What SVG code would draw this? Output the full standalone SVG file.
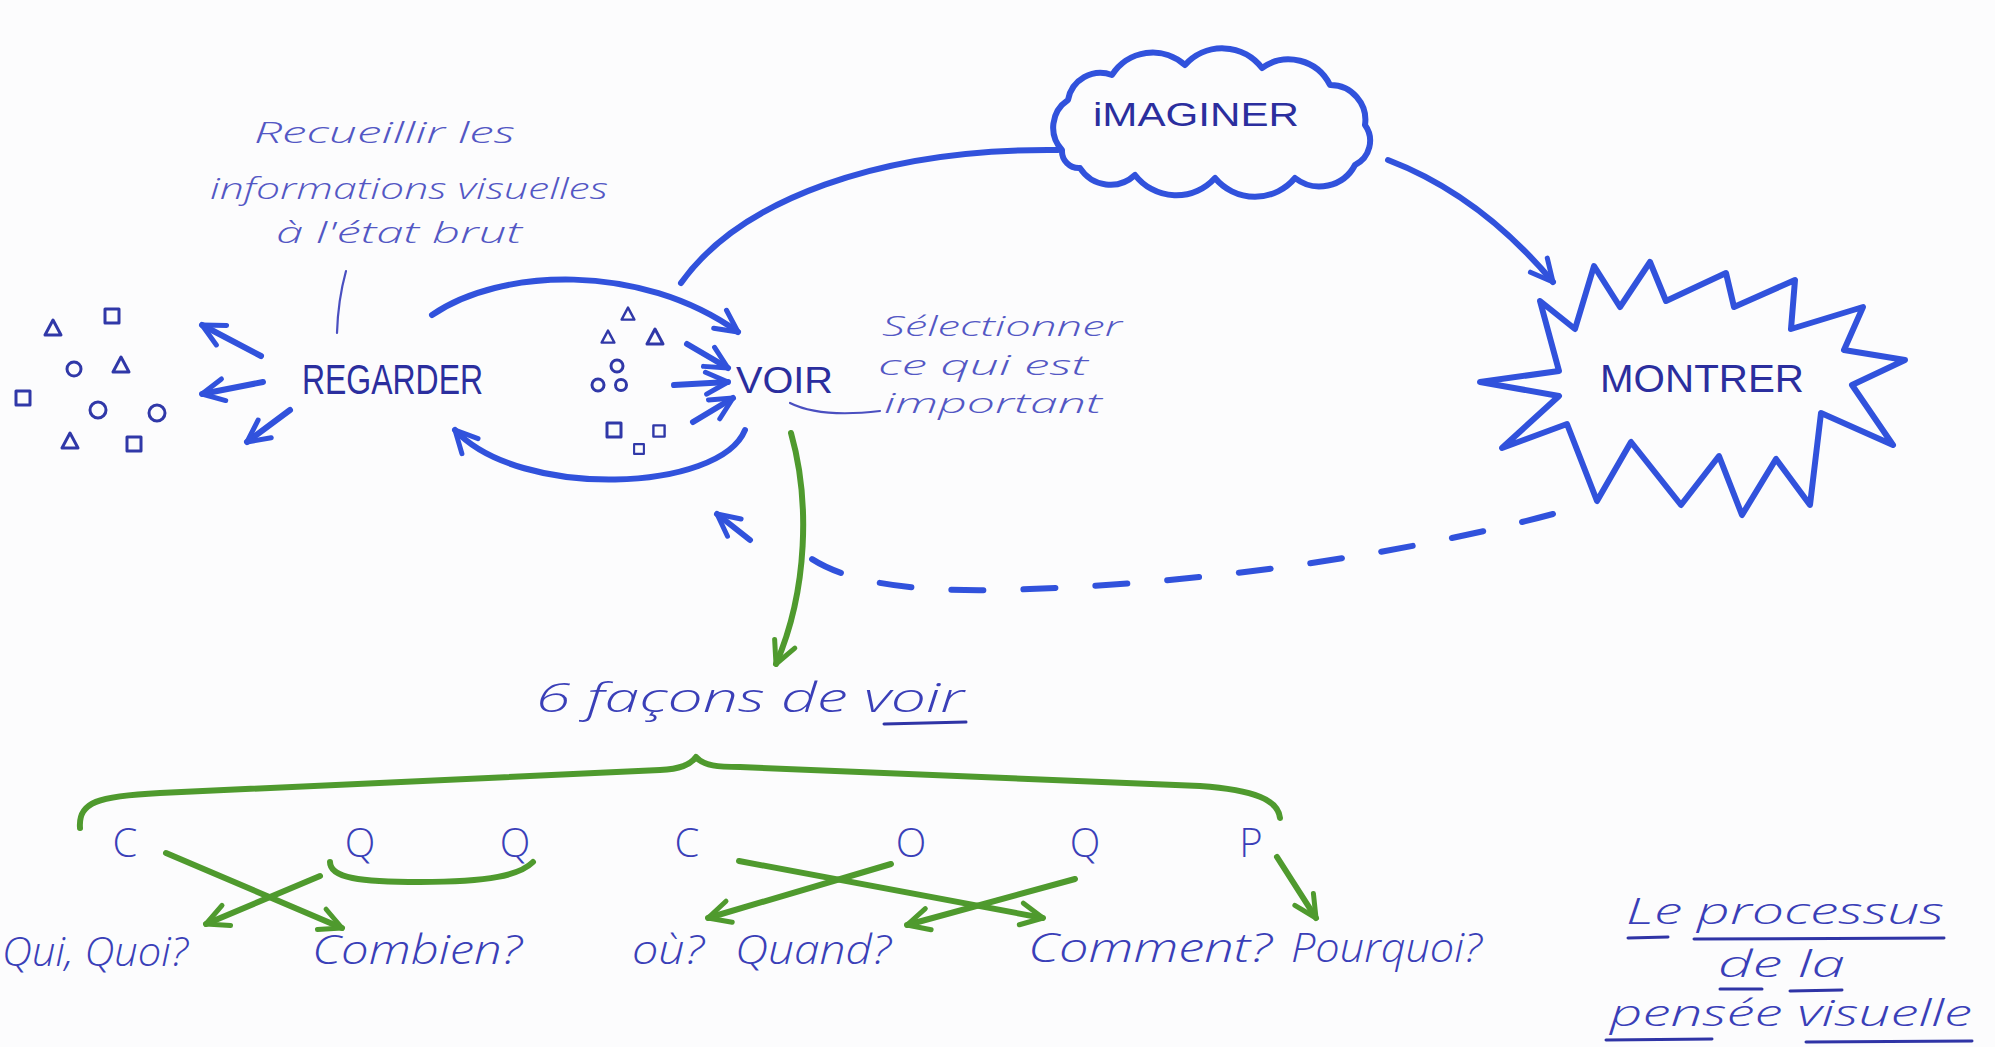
<svg xmlns="http://www.w3.org/2000/svg" width="1995" height="1047" viewBox="0 0 1995 1047">
  <defs>
    <style>
      .cap { font-family: "Liberation Sans", Arial, sans-serif; fill: #2b2e9e; }
      .hand { font-family: "Open Sans", "DejaVu Sans", sans-serif; font-style: italic; font-weight: 300; fill: #3a3fb8; }
      .letter { font-family: "Open Sans", "DejaVu Sans", sans-serif; font-weight: 300; fill: #3a3fb8; }
      .note { font-family: "Open Sans", "DejaVu Sans", sans-serif; font-style: italic; font-weight: 300; fill: #5357c4; }
      .blue { fill: none; stroke: #3152dc; stroke-width: 6; stroke-linecap: round; stroke-linejoin: round; }
      .green { fill: none; stroke: #4f9a2e; stroke-width: 6; stroke-linecap: round; stroke-linejoin: round; }
      .thin { fill: none; stroke: #4a4fc0; stroke-width: 2.2; stroke-linecap: round; }
      .ink { fill: none; stroke: #3038a8; stroke-width: 3; stroke-linecap: round; stroke-linejoin: round; }
      .uline { fill: none; stroke: #2f34a6; stroke-width: 3; stroke-linecap: round; }
    </style>
    <marker id="ah-blue" viewBox="0 0 30 30" refX="27" refY="15" markerWidth="30" markerHeight="30" markerUnits="userSpaceOnUse" orient="auto">
      <path d="M5,4 L27,15 L5,26" fill="none" stroke="#3152dc" stroke-width="5" stroke-linecap="round" stroke-linejoin="round"/>
    </marker>
    <marker id="ah-green" viewBox="0 0 30 30" refX="27" refY="15" markerWidth="30" markerHeight="30" markerUnits="userSpaceOnUse" orient="auto">
      <path d="M5,4 L27,15 L5,26" fill="none" stroke="#4f9a2e" stroke-width="5" stroke-linecap="round" stroke-linejoin="round"/>
    </marker>
    <path id="tri" d="M0,-8 L8,7 L-8,7 Z"/>
    <path id="sq" d="M-7,-7 L7,-7 L7,7 L-7,7 Z"/>
  </defs>

  <rect width="1995" height="1047" fill="#fcfcfd"/>

  <!-- connectors -->
  <g id="connectors">
    <!-- regarder scatters outward -->
    <path class="blue" d="M261,356 L202,325" marker-end="url(#ah-blue)"/>
    <path class="blue" d="M263,382 L202,394" marker-end="url(#ah-blue)"/>
    <path class="blue" d="M290,410 L247,442" marker-end="url(#ah-blue)"/>
    <!-- loop regarder <-> voir -->
    <path class="blue" d="M432,315 C500,268 640,262 738,332" marker-end="url(#ah-blue)"/>
    <path class="blue" d="M745,430 C720,492 520,500 455,430" marker-end="url(#ah-blue)"/>
    <!-- selection arrows into voir -->
    <path class="blue" d="M687,344 L728,368" marker-end="url(#ah-blue)"/>
    <path class="blue" d="M674,385 L728,382" marker-end="url(#ah-blue)"/>
    <path class="blue" d="M693,422 L733,398" marker-end="url(#ah-blue)"/>
    <!-- voir to imaginer -->
    <path class="blue" d="M681,283 C740,200 880,148 1058,150"/>
    <!-- imaginer to montrer -->
    <path class="blue" d="M1388,160 Q1480,195 1553,282" marker-end="url(#ah-blue)"/>
    <!-- montrer back to voir (dashed) -->
    <path class="blue" stroke-width="4.5" stroke-dasharray="32 40" d="M1553,514 C1400,555 1200,585 1000,590 C900,592 840,580 806,555"/>
    <path class="blue" d="M750,540 L717,514" marker-end="url(#ah-blue)"/>
    <!-- voir to six ways -->
    <path class="green" d="M791,433 C810,500 808,590 776,664" marker-end="url(#ah-green)"/>
    <!-- braces -->
    <path class="green" d="M80,828 C78,802 98,796 160,793 L660,770 C680,769 690,765 696,757 C704,766 718,767 740,767 L1200,786 C1255,790 1278,800 1280,818"/>
    <path class="green" d="M330,862 C330,878 360,882 420,882 C490,882 520,875 533,862"/>
    <!-- letters to questions -->
    <path class="green" d="M166,853 L342,928" marker-end="url(#ah-green)"/>
    <path class="green" d="M320,876 L206,924" marker-end="url(#ah-green)"/>
    <path class="green" d="M739,861 L1043,918" marker-end="url(#ah-green)"/>
    <path class="green" d="M891,864 L708,918" marker-end="url(#ah-green)"/>
    <path class="green" d="M1075,879 L907,925" marker-end="url(#ah-green)"/>
    <path class="green" d="M1277,857 L1316,918" marker-end="url(#ah-green)"/>
    <!-- leader lines of the notes -->
    <path class="thin" d="M346,271 Q338,300 337,333"/>
    <path class="thin" d="M790,403 Q820,418 880,411"/>
  </g>

  <!-- raw visual information around REGARDER -->
  <g id="scatter-raw" class="ink">
    <use href="#tri" x="53" y="328"/>
    <use href="#sq" x="112" y="316"/>
    <circle cx="74" cy="369" r="7"/>
    <use href="#tri" x="121" y="365"/>
    <use href="#sq" x="23" y="398"/>
    <circle cx="98" cy="410" r="8"/>
    <circle cx="157" cy="413" r="8"/>
    <use href="#tri" x="70" y="441"/>
    <use href="#sq" x="134" y="444"/>
  </g>

  <!-- selected information between REGARDER and VOIR -->
  <g id="scatter-selected" class="ink">
    <use href="#tri" x="628" y="314" transform="translate(628 314) scale(0.8) translate(-628 -314)"/>
    <use href="#tri" x="608" y="337" transform="translate(608 337) scale(0.8) translate(-608 -337)"/>
    <use href="#tri" x="655" y="337"/>
    <circle cx="617" cy="366" r="6"/>
    <circle cx="598" cy="385" r="6"/>
    <circle cx="621" cy="385" r="5.5"/>
    <use href="#sq" x="614" y="430"/>
    <use href="#sq" x="659" y="431" transform="translate(659 431) scale(0.8) translate(-659 -431)"/>
    <use href="#sq" x="639" y="449" transform="translate(639 449) scale(0.7) translate(-639 -449)"/>
  </g>

  <g id="note-recueillir">
    <text class="note" x="254" y="143" font-size="30" textLength="261" lengthAdjust="spacingAndGlyphs">Recueillir les</text>
    <text class="note" x="210" y="199" font-size="30" textLength="398" lengthAdjust="spacingAndGlyphs">informations visuelles</text>
    <text class="note" x="276" y="243" font-size="30" textLength="246" lengthAdjust="spacingAndGlyphs">à l'état brut</text>
  </g>

  <g id="node-regarder">
    <text class="cap" x="302" y="394" font-size="42" textLength="181" lengthAdjust="spacingAndGlyphs">REGARDER</text>
  </g>

  <g id="node-voir">
    <text class="cap" x="736" y="393" font-size="36" textLength="97" lengthAdjust="spacingAndGlyphs">VOIR</text>
  </g>

  <g id="note-selectionner">
    <text class="note" x="882" y="336" font-size="27" textLength="240" lengthAdjust="spacingAndGlyphs">Sélectionner</text>
    <text class="note" x="878" y="375" font-size="27" textLength="210" lengthAdjust="spacingAndGlyphs">ce qui est</text>
    <text class="note" x="884" y="413" font-size="27" textLength="218" lengthAdjust="spacingAndGlyphs">important</text>
  </g>

  <g id="node-imaginer">
    <path class="blue" d="M1062,150 A33 33 0 0 1 1068,100 A33 33 0 0 1 1112,75 A48 48 0 0 1 1185,65 A50 50 0 0 1 1262,68 A46 46 0 0 1 1330,85 A35 35 0 0 1 1365,125 A27 27 0 0 1 1355,165 A40 40 0 0 1 1295,178 A52 52 0 0 1 1215,178 A52 52 0 0 1 1135,175 A36 36 0 0 1 1080,168 A17 17 0 0 1 1062,150 Z"/>
    <text class="cap" x="1093" y="126" font-size="34" textLength="206" lengthAdjust="spacingAndGlyphs">iMAGINER</text>
  </g>

  <g id="node-montrer">
    <polygon class="blue" points="1540,301 1575,329 1594,266 1620,307 1650,262 1666,301 1726,273 1734,307 1795,280 1791,329 1863,307 1844,350 1905,360 1852,385 1893,445 1821,413 1810,505 1776,459 1742,515 1719,456 1681,505 1631,442 1597,501 1567,424 1502,448 1559,396 1480,382 1559,371"/>
    <text class="cap" x="1600" y="392" font-size="38" textLength="204" lengthAdjust="spacingAndGlyphs">MONTRER</text>
  </g>

  <g id="node-six-facons">
    <text class="hand" x="536" y="712" font-size="40" textLength="428" lengthAdjust="spacingAndGlyphs">6 façons de voir</text>
    <path class="uline" d="M884,724 L966,722"/>
  </g>

  <g id="node-letters">
    <text class="letter" font-size="40" text-anchor="middle" y="857">
      <tspan x="125">C</tspan><tspan x="360">Q</tspan><tspan x="515">Q</tspan><tspan x="687">C</tspan><tspan x="911">O</tspan><tspan x="1085">Q</tspan><tspan x="1251">P</tspan>
    </text>
  </g>

  <g id="node-questions">
    <text class="hand" x="2" y="966" font-size="40" textLength="186" lengthAdjust="spacingAndGlyphs">Qui, Quoi?</text>
    <text class="hand" x="312" y="964" font-size="40" textLength="210" lengthAdjust="spacingAndGlyphs">Combien?</text>
    <text class="hand" x="632" y="964" font-size="40" textLength="72" lengthAdjust="spacingAndGlyphs">où?</text>
    <text class="hand" x="735" y="964" font-size="40" textLength="156" lengthAdjust="spacingAndGlyphs">Quand?</text>
    <text class="hand" x="1028" y="962" font-size="40" textLength="244" lengthAdjust="spacingAndGlyphs">Comment?</text>
    <text class="hand" x="1291" y="962" font-size="40" textLength="191" lengthAdjust="spacingAndGlyphs">Pourquoi?</text>
  </g>

  <g id="title">
    <text class="hand" x="1626" y="924" font-size="36" textLength="318" lengthAdjust="spacingAndGlyphs">Le processus</text>
    <text class="hand" x="1718" y="977" font-size="36" textLength="127" lengthAdjust="spacingAndGlyphs">de la</text>
    <text class="hand" x="1610" y="1026" font-size="36" textLength="362" lengthAdjust="spacingAndGlyphs">pensée visuelle</text>
    <path class="uline" d="M1628,938 L1668,937 M1694,939 L1944,938 M1720,989 L1762,989 M1790,991 L1842,990 M1606,1040 L1712,1039 M1806,1042 L1972,1041"/>
  </g>
</svg>
